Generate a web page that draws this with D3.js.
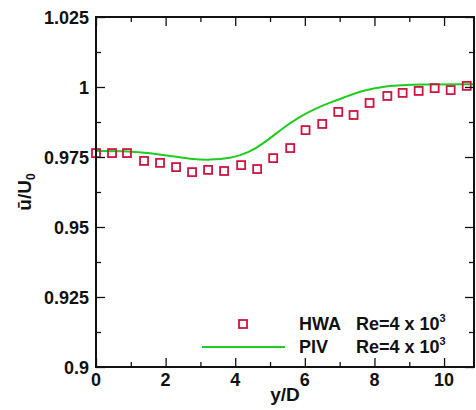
<!DOCTYPE html>
<html>
<head>
<meta charset="utf-8">
<script src="https://d3js.org/d3.v7.min.js"></script>
<style>
    body { margin: 0; background: #fff; }
    text { font-family: "Liberation Sans", Arial, sans-serif; font-weight: bold; fill: #111; }
</style>
</head>
<body>
<div id="main"></div>
<script>
const ctx = {
    w: 476,
    h: 410,
    left: 96,
    right: 474,
    top: 17,
    bottom: 367
};

// HWA measurements (squares)
const hwaX = [0, 0.46, 0.89, 1.38, 1.84, 2.30, 2.76, 3.22, 3.68, 4.17, 4.63, 5.09,
    5.58, 6.02, 6.50, 6.96, 7.40, 7.86, 8.37, 8.81, 9.27, 9.73, 10.19, 10.65];
const hwaU = [0.9764, 0.9764, 0.9764, 0.9736, 0.9729, 0.9714, 0.9696, 0.9704, 0.9700, 0.9721, 0.9707, 0.9746,
    0.9782, 0.9846, 0.9868, 0.9911, 0.9900, 0.9943, 0.9968, 0.9979, 0.9986, 0.9996, 0.9989, 1.0004];

// PIV profile (line)
const pivX = [0, 0.98, 1.55, 2.13, 2.71, 3.28, 3.86, 4.37, 4.86, 5.35, 5.81, 6.30, 6.80, 7.17, 7.60, 8.26, 9.32, 10.86];
const pivU = [0.9771, 0.9771, 0.9764, 0.9754, 0.9743, 0.9739, 0.9745, 0.9764, 0.9802, 0.9852, 0.9891, 0.9923, 0.9948,
    0.9965, 0.9985, 1.0004, 1.0010, 1.0010];

const xTicks = [0, 2, 4, 6, 8, 10];
const xMinor = [1, 3, 5, 7, 9];
const yTicks = [0.9, 0.925, 0.95, 0.975, 1, 1.025];
const yTickLabels = ["0.9", "0.925", "0.95", "0.975", "1", "1.025"];
const yMinor = [0.9125, 0.9375, 0.9625, 0.9875, 1.0125];

const hwaColor = "#cc1540";
const pivColor = "#1fcc1f";

function createViz() {
    let svgEl = d3.select("#main").append("svg")
        .attr("width", ctx.w)
        .attr("height", ctx.h);
    let rootG = svgEl.append("g").attr("id", "rootG");

    let xScale = d3.scaleLinear().domain([0, 10.86]).range([ctx.left, ctx.right]);
    let yScale = d3.scaleLinear().domain([0.9, 1.025]).range([ctx.bottom, ctx.top]);

    // clip so that the curve stays inside the frame
    svgEl.append("clipPath").attr("id", "plotClip")
        .append("rect")
        .attr("x", ctx.left).attr("y", ctx.top)
        .attr("width", ctx.right - ctx.left).attr("height", ctx.bottom - ctx.top);

    // PIV curve (smoothed through the read points)
    let pivData = pivX.map((x, i) => [x, pivU[i]]);
    rootG.append("path")
        .datum(pivData)
        .attr("clip-path", "url(#plotClip)")
        .attr("fill", "none")
        .attr("stroke", pivColor)
        .attr("stroke-width", 2)
        .attr("d", d3.line()
            .curve(d3.curveBasis)
            .x((d) => xScale(d[0]))
            .y((d) => yScale(d[1])));

    // HWA squares
    let sq = 8;
    let hwaData = hwaX.map((x, i) => [x, hwaU[i]]);
    rootG.append("g").selectAll("rect")
        .data(hwaData)
        .enter()
        .append("rect")
        .attr("x", (d) => xScale(d[0]) - sq / 2)
        .attr("y", (d) => yScale(d[1]) - sq / 2)
        .attr("width", sq)
        .attr("height", sq)
        .attr("fill", "none")
        .attr("stroke", hwaColor)
        .attr("stroke-width", 1.8);

    // axes: inward ticks on all four sides
    let axG = rootG.append("g").attr("id", "axG");
    axG.append("g")
        .attr("transform", `translate(0,${ctx.bottom})`)
        .call(d3.axisTop(xScale).tickValues(xTicks).tickSize(9).tickFormat(""));
    axG.append("g")
        .attr("transform", `translate(0,${ctx.bottom})`)
        .call(d3.axisTop(xScale).tickValues(xMinor).tickSize(5).tickFormat(""));
    axG.append("g")
        .attr("transform", `translate(0,${ctx.top})`)
        .call(d3.axisBottom(xScale).tickValues(xTicks).tickSize(9).tickFormat(""));
    axG.append("g")
        .attr("transform", `translate(0,${ctx.top})`)
        .call(d3.axisBottom(xScale).tickValues(xMinor).tickSize(5).tickFormat(""));
    axG.append("g")
        .attr("transform", `translate(${ctx.left},0)`)
        .call(d3.axisRight(yScale).tickValues(yTicks).tickSize(9).tickFormat(""));
    axG.append("g")
        .attr("transform", `translate(${ctx.left},0)`)
        .call(d3.axisRight(yScale).tickValues(yMinor).tickSize(5).tickFormat(""));
    axG.append("g")
        .attr("transform", `translate(${ctx.right},0)`)
        .call(d3.axisLeft(yScale).tickValues(yTicks).tickSize(9).tickFormat(""));
    axG.append("g")
        .attr("transform", `translate(${ctx.right},0)`)
        .call(d3.axisLeft(yScale).tickValues(yMinor).tickSize(5).tickFormat(""));
    axG.selectAll(".domain").remove();
    axG.selectAll("line").attr("stroke", "#111").attr("stroke-width", 1.3);

    // frame
    rootG.append("path")
        .attr("fill", "none")
        .attr("stroke", "#111")
        .attr("stroke-width", 2)
        .attr("d", `M${ctx.left},${ctx.top}H${ctx.right}V${ctx.bottom}H${ctx.left}Z`);

    // tick labels
    rootG.append("g").selectAll("text")
        .data(xTicks)
        .enter()
        .append("text")
        .attr("x", (d) => xScale(d))
        .attr("y", ctx.bottom + 19)
        .attr("text-anchor", "middle")
        .style("font-size", "18px")
        .text((d) => d);
    rootG.append("g").selectAll("text")
        .data(yTicks)
        .enter()
        .append("text")
        .attr("x", ctx.left - 7)
        .attr("y", (d) => yScale(d) + 6.5)
        .attr("text-anchor", "end")
        .style("font-size", "18px")
        .text((d, i) => yTickLabels[i]);

    // axis titles
    rootG.append("text")
        .attr("x", (ctx.left + ctx.right) / 2)
        .attr("y", 401)
        .attr("text-anchor", "middle")
        .style("font-size", "19px")
        .text("y/D");
    let yLab = rootG.append("text")
        .attr("transform", `translate(31,192) rotate(-90)`)
        .attr("text-anchor", "middle")
        .style("font-size", "19px");
    yLab.append("tspan").text("ū/U");
    yLab.append("tspan").attr("dy", 4).style("font-size", "12px").text("0");

    // legend
    let legG = rootG.append("g").attr("id", "legendG");
    legG.append("rect")
        .attr("x", 243 - sq / 2).attr("y", 324 - sq / 2)
        .attr("width", sq).attr("height", sq)
        .attr("fill", "none")
        .attr("stroke", hwaColor)
        .attr("stroke-width", 1.8);
    legG.append("line")
        .attr("x1", 202).attr("x2", 285)
        .attr("y1", 347).attr("y2", 347)
        .attr("stroke", pivColor)
        .attr("stroke-width", 2);
    let legRows = [["HWA", 330], ["PIV", 353]];
    legRows.forEach((r) => {
        legG.append("text")
            .attr("x", 299).attr("y", r[1])
            .style("font-size", "18px")
            .text(r[0]);
        let t = legG.append("text")
            .attr("x", 356).attr("y", r[1])
            .style("font-size", "18px");
        t.append("tspan").text("Re=4 x 10");
        t.append("tspan").attr("dy", -8).style("font-size", "11px").text("3");
    });
}

createViz();
</script>
</body>
</html>
